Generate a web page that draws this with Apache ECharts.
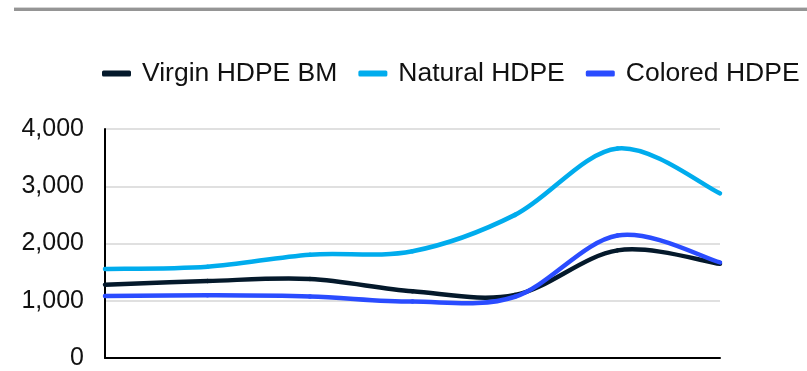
<!DOCTYPE html>
<html>
<head>
<meta charset="utf-8">
<script src="https://cdn.jsdelivr.net/npm/echarts@6/dist/echarts.min.js"></script>
<style>
  html, body { margin: 0; padding: 0; background: #ffffff; }
  #chart { width: 807px; height: 371px; }
</style>
</head>
<body>
<div id="chart"></div>
<script>
// Periods along the x axis (labels are not shown)
const periods = ['P1', 'P2', 'P3', 'P4', 'P5', 'P6', 'P7'];

// Price series
const virginHdpeBm = [1280, 1345, 1380, 1165, 1100, 1880, 1645];
const naturalHdpe  = [1555, 1595, 1805, 1865, 2500, 3660, 2875];
const coloredHdpe  = [1085, 1095, 1075, 985, 1070, 2140, 1670];

// Value axis ticks
const yTicks = [0, 1000, 2000, 3000, 4000];

const seriesNames = ['Virgin HDPE BM', 'Natural HDPE', 'Colored HDPE'];
const seriesColors = ['#04192b', '#00aced', '#2a4cff'];
const seriesData = [virginHdpeBm, naturalHdpe, coloredHdpe];

// Smoothed line drawn segment by segment: each segment is a cubic Bezier
// whose control points follow the Catmull-Rom rule (1/6 of the neighbour span).
function smoothSegment(values, color) {
  return function (params, api) {
    const i = params.dataIndex;
    const n = values.length;
    if (i >= n - 1) return null;
    const pt = k => api.coord([Math.max(0, Math.min(n - 1, k)), values[Math.max(0, Math.min(n - 1, k))]]);
    const p0 = pt(i - 1), p1 = pt(i), p2 = pt(i + 1), p3 = pt(i + 2);
    return {
      type: 'bezierCurve',
      shape: {
        x1: p1[0], y1: p1[1],
        x2: p2[0], y2: p2[1],
        cpx1: p1[0] + (p2[0] - p0[0]) / 6,
        cpy1: p1[1] + (p2[1] - p0[1]) / 6,
        cpx2: p2[0] - (p3[0] - p1[0]) / 6,
        cpy2: p2[1] - (p3[1] - p1[1]) / 6
      },
      style: { stroke: color, lineWidth: 4.5, fill: null, lineCap: 'round' },
      silent: true
    };
  };
}

const chart = echarts.init(document.getElementById('chart'), null, { renderer: 'canvas' });

chart.setOption({
  animation: false,
  backgroundColor: '#ffffff',
  textStyle: { fontFamily: 'Liberation Sans, Arial, sans-serif' },
  graphic: [
    { type: 'rect', shape: { x: 14, y: 7, width: 793, height: 1 }, style: { fill: '#d4d4d4' }, silent: true },
    { type: 'rect', shape: { x: 14, y: 8, width: 793, height: 3 }, style: { fill: '#959595' }, silent: true }
  ],
  legend: {
    left: 102,
    top: 60,
    width: 705,
    padding: 0,
    icon: 'roundRect',
    itemWidth: 29,
    itemHeight: 6,
    itemGap: 21,
    textStyle: {
      fontSize: 26.5,
      color: '#111111',
      padding: [0, 0, 0, 6],
      fontFamily: 'Liberation Sans, Arial, sans-serif'
    },
    data: seriesNames
  },
  grid: { left: 105, right: 87, top: 129, bottom: 13, containLabel: false },
  xAxis: {
    type: 'category',
    data: periods,
    boundaryGap: false,
    axisLine: { show: true, lineStyle: { color: '#000000', width: 2 } },
    axisTick: { show: false },
    axisLabel: { show: false },
    splitLine: { show: false }
  },
  yAxis: {
    type: 'value',
    min: yTicks[0],
    max: yTicks[yTicks.length - 1],
    interval: yTicks[1] - yTicks[0],
    axisLine: { show: true, lineStyle: { color: '#000000', width: 2 } },
    axisTick: { show: false },
    axisLabel: {
      fontSize: 25,
      color: '#111111',
      margin: 21,
      formatter: v => v.toLocaleString('en-US')
    },
    splitLine: { show: true, lineStyle: { color: '#d6d6d6', width: 1.5 } }
  },
  series: seriesNames.map((name, i) => ({
    name: name,
    type: 'custom',
    coordinateSystem: 'cartesian2d',
    data: seriesData[i].map((v, k) => [k, v]),
    encode: { x: 0, y: 1 },
    renderItem: smoothSegment(seriesData[i], seriesColors[i]),
    itemStyle: { color: seriesColors[i] },
    clip: false,
    z: i === 2 ? 4 : (i === 0 ? 3 : 2)
  }))
});
</script>
</body>
</html>
